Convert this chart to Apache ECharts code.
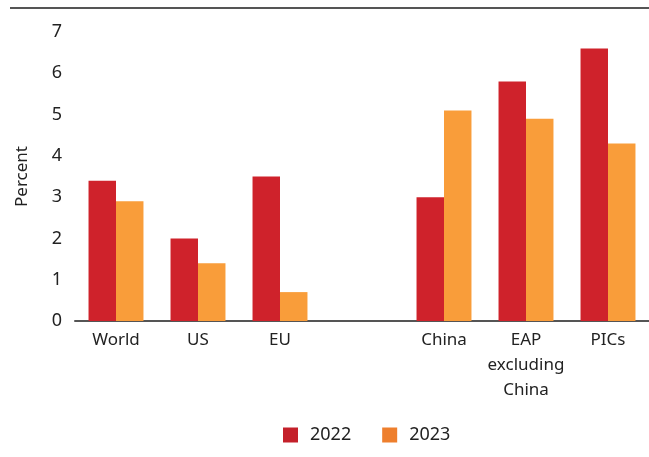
<!DOCTYPE html>
<html><head><meta charset="utf-8">
<script src="https://cdn.jsdelivr.net/npm/echarts@6/dist/echarts.min.js"></script>
<style>html,body{margin:0;padding:0;background:#fff}#c{width:649px;height:457px}</style>
</head><body><div id="c"></div>
<script>
const categories = ['World', 'US', 'EU', '', 'China', 'EAP\nexcluding\nChina', 'PICs'];
const series2022 = [3.4, 2.0, 3.5, '-', 3.0, 5.8, 6.6];
const series2023 = [2.9, 1.4, 0.7, '-', 5.1, 4.9, 4.3];
const yTicks = [0, 1, 2, 3, 4, 5, 6, 7];

const FONT = 'Noto Sans';
const chart = echarts.init(document.getElementById('c'));
chart.setOption({
  animation: false,
  textStyle: { fontFamily: FONT },
  graphic: [{
    type: 'line', shape: { x1: 10, y1: 8, x2: 649, y2: 8 },
    style: { stroke: '#555', lineWidth: 2 }
  }],
  legend: {
    top: 421, left: 278, itemWidth: 15, itemHeight: 15, itemGap: 31,
    icon: 'rect',
    textStyle: { fontSize: 18, color: '#222', fontFamily: FONT, padding: [0, 0, 0, 7] },
    data: [
      { name: '2022', itemStyle: { color: '#c4202a' } },
      { name: '2023', itemStyle: { color: '#ee7f2d' } }
    ]
  },
  grid: { left: 75, right: -2, top: 32, bottom: 136 },
  xAxis: {
    type: 'category', data: categories,
    axisLine: { lineStyle: { color: '#555', width: 2 } },
    axisTick: { show: false },
    axisLabel: { fontSize: 17, color: '#222', margin: 7, lineHeight: 25, interval: 0, fontFamily: FONT }
  },
  yAxis: {
    type: 'value', min: 0, max: 7, interval: 1,
    name: 'Percent', nameLocation: 'middle', nameGap: 44,
    nameTextStyle: { fontSize: 17, color: '#222', fontFamily: FONT },
    axisLine: { show: false }, axisTick: { show: false }, splitLine: { show: false },
    axisLabel: { fontSize: 18, color: '#222', margin: 13, fontFamily: FONT,
      formatter: v => yTicks.includes(v) ? String(v) : '' }
  },
  series: [
    { name: '2022', type: 'bar', data: series2022, barGap: '0%', barCategoryGap: '33%',
      itemStyle: { color: '#cf222b' } },
    { name: '2023', type: 'bar', data: series2023,
      itemStyle: { color: '#f99d3a' } }
  ]
});
</script></body></html>
